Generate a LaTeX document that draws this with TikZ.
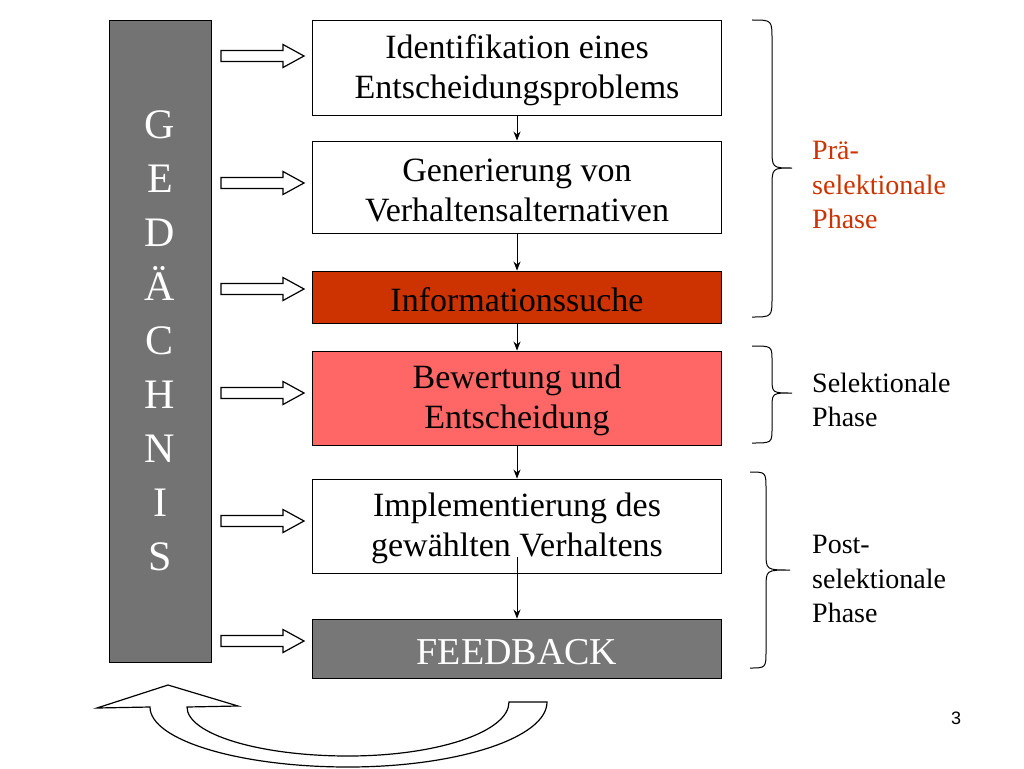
\documentclass[tikz,border=0pt]{standalone}
\usepackage{fontspec}
\setmainfont{Liberation Serif}
\newfontfamily\pagefont{Liberation Sans}
\usetikzlibrary{arrows.meta}
\definecolor{barGray}{HTML}{737373}
\definecolor{fbGray}{HTML}{777777}
\definecolor{infoRed}{HTML}{CC3300}
\definecolor{bewRed}{HTML}{FF6666}
\definecolor{phaseRed}{HTML}{CC3300}
\newcommand\mytopstrut{\rule{0pt}{0.86em}}
\begin{document}
\begin{tikzpicture}[x=1pt,y=-1pt,
  box/.style={draw=black, line width=0.9pt, minimum width=409pt, inner sep=0pt, align=center,
    font=\fontsize{34}{40}\selectfont},
  flow/.style={-{Stealth[length=9pt,width=7pt]}, line width=0.9pt},
  bracepath/.style={draw=black, line width=1pt},
  phasetext/.style={anchor=west, align=left, inner sep=0pt, font=\fontsize{28}{34.5}\selectfont},
  blockarr/.pic={\draw[fill=white, line width=1.2pt] (0,-5.5) -- (62,-5.5) -- (62,-11.5) -- (83,0) -- (62,11.5) -- (62,5.5) -- (0,5.5) -- cycle;}
]
\useasboundingbox (0,0) rectangle (1024,768);

% memory bar
\node[draw=black, line width=0.9pt, fill=barGray, minimum width=102pt, minimum height=642pt, inner sep=0pt,
  align=center, text=white, font=\fontsize{42}{54}\selectfont] (bar) at (160,341)
  {G\\E\\D\\Ä\\C\\H\\N\\I\\S};

% process boxes
\node[box, minimum height=95pt] (b1) at (517,67.5) {\mytopstrut Identifikation eines\\Entscheidungsproblems};
\node[box, minimum height=92pt] (b2) at (517,187) {\mytopstrut Generierung von\\Verhaltensalternativen};
\node[box, minimum height=52pt, fill=infoRed] (b3) at (517,297) {\mytopstrut Informationssuche};
\node[box, minimum height=94pt, fill=bewRed] (b4) at (517,398) {\mytopstrut Bewertung und\\Entscheidung};
\node[box, minimum height=94pt] (b5) at (517,526) {\mytopstrut Implementierung des\\gewählten Verhaltens};
\node[box, minimum height=59pt, fill=fbGray, text=white, font=\fontsize{38}{44}\selectfont] (b6) at (517,648.5) {\mytopstrut FEEDBACK};

% flow arrows
\draw[flow] (b1.south) -- (b2.north);
\draw[flow] (b2.south) -- (b3.north);
\draw[flow] (b3.south) -- (b4.north);
\draw[flow] (b4.south) -- (b5.north);
\coordinate (s5) at (517,557);
\draw[flow] (s5) -- (b6.north);

% block arrows from memory
\foreach \yy in {56,183,289,393,521,641} {
  \pic at (221,\yy) {blockarr};
}

% braces
\draw[bracepath] (752,20) .. controls (772,20) .. (772,40) -- (772,148) .. controls (772,168) .. (792,168)
  .. controls (772,168) .. (772,188) -- (772,297) .. controls (772,317) .. (752,317);
\draw[bracepath] (752,346) .. controls (772,346) .. (772,361) -- (772,378) .. controls (772,393) .. (792,393)
  .. controls (772,393) .. (772,408) -- (772,428) .. controls (772,443) .. (752,443);
\draw[bracepath] (750,472) .. controls (766,472) .. (766,490) -- (766,552) .. controls (766,570) .. (790,570)
  .. controls (766,570) .. (766,588) -- (766,650) .. controls (766,668) .. (750,668);

% phase labels
\node[phasetext, text=phaseRed] (p1) at (812,185) {Prä-\\selektionale\\Phase};
\node[phasetext] (p2) at (812,400) {Selektionale\\Phase};
\node[phasetext] (p3) at (812,579) {Post-\\selektionale\\Phase};

% feedback loop arrow
\draw[fill=white, line width=1.2pt] (168,685) -- (238,706) -- (187,707)
  .. controls (187,734) and (259,756) .. (348,756)
  .. controls (437,756) and (509,732) .. (509,702)
  -- (547,702)
  .. controls (547,738) and (457,767) .. (348,767)
  .. controls (239,767) and (150,740) .. (150,707)
  -- (97,708) -- cycle;

% page number
\node[font=\pagefont\fontsize{18}{20}\selectfont] (pg) at (956,718) {3};
\end{tikzpicture}
\end{document}
